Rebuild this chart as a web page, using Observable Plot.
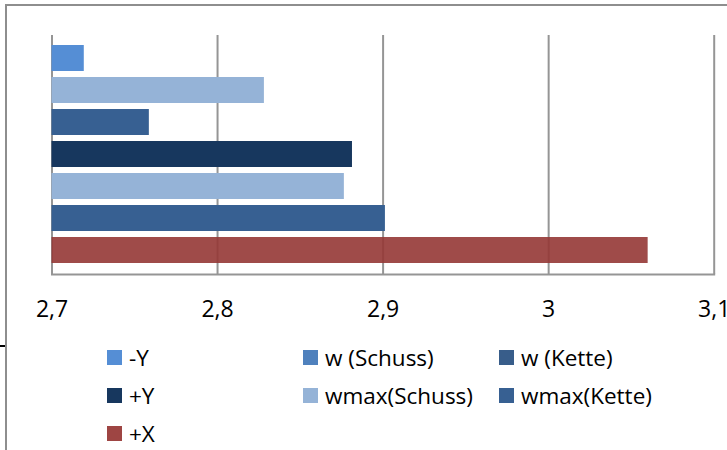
<!DOCTYPE html>
<html><head><meta charset="utf-8">
<script src="https://cdn.jsdelivr.net/npm/d3@7"></script>
<script src="https://cdn.jsdelivr.net/npm/@observablehq/plot@0.6"></script>
<style>
body{margin:0;background:#fff;font-family:"Open Sans",sans-serif;}
#wrap{position:relative;width:727px;height:450px;overflow:hidden;background:#fff;}
#frame{position:absolute;left:5px;top:4px;right:-4px;bottom:-4px;border-left:2px solid #8e8e8e;border-top:2px solid #8e8e8e;}
#dash{position:absolute;left:0;top:345px;width:5px;height:2px;background:#000;}
#chart{position:absolute;left:0;top:0;}
#legend{position:absolute;left:107px;top:338px;display:grid;grid-template-columns:196px 196px 196px;grid-auto-rows:38px;font-size:22.5px;color:#000;}
.item{display:flex;align-items:center;white-space:nowrap;}
.sw{width:15px;height:15px;margin-right:7px;flex:none;}
</style>
</head><body>
<div id="wrap"><div id="frame"></div><div id="dash"></div><div id="chart"></div><div id="legend"></div></div>
<script>
const series = ["-Y","w (Schuss)","w (Kette)","+Y","wmax(Schuss)","wmax(Kette)","+X"];
const values = [2.7195, 2.8283, 2.7588, 2.8815, 2.8766, 2.9014, 3.0601];
const barColors = ["#558ED5","#95B3D7","#376092","#17375E","#95B3D7","#376092","#953735"];
const legendColors = ["#558ED5","#4F81BD","#385D8A","#17375E","#95B3D7","#376092","#9E4543"];
const xTicks = [2.7, 2.8, 2.9, 3.0, 3.1];
const xTickLabels = ["2,7","2,8","2,9","3","3,1"];

const data = series.map((name, i) => ({name, value: values[i], color: barColors[i], op: name === "+X" ? 0.9 : 1}));

const plot = Plot.plot({
  width: 727, height: 330,
  marginLeft: 51.5, marginRight: 13.3, marginTop: 35, marginBottom: 56,
  style: {fontFamily: "'Open Sans', sans-serif", background: "transparent", overflow: "visible"},
  x: {domain: [xTicks[0], xTicks[xTicks.length - 1]], label: null},
  y: {domain: series, range: [40.5, 267], paddingInner: 0.2, paddingOuter: 0.1, axis: null},
  color: {type: "identity"},
  marks: [
    Plot.ruleX(xTicks, {stroke: "#959595", strokeWidth: 2}),
    Plot.frame({anchor: "bottom", stroke: "#959595", strokeWidth: 2}),
    Plot.barX(data, {x1: xTicks[0], x2: "value", y: "name", fill: "color", fillOpacity: "op"}),
    Plot.axisX(xTicks, {tickSize: 0, tickPadding: 26, fontSize: 23, fill: "#000", label: null,
      tickFormat: d => xTickLabels[xTicks.indexOf(d)]})
  ]
});
document.getElementById("chart").appendChild(plot);

const legend = document.getElementById("legend");
series.forEach((name, i) => {
  const it = document.createElement("div");
  it.className = "item";
  const sw = document.createElement("span");
  sw.className = "sw";
  sw.style.background = legendColors[i];
  const t = document.createElement("span");
  t.textContent = name;
  it.appendChild(sw); it.appendChild(t);
  legend.appendChild(it);
});
</script>
</body></html>
